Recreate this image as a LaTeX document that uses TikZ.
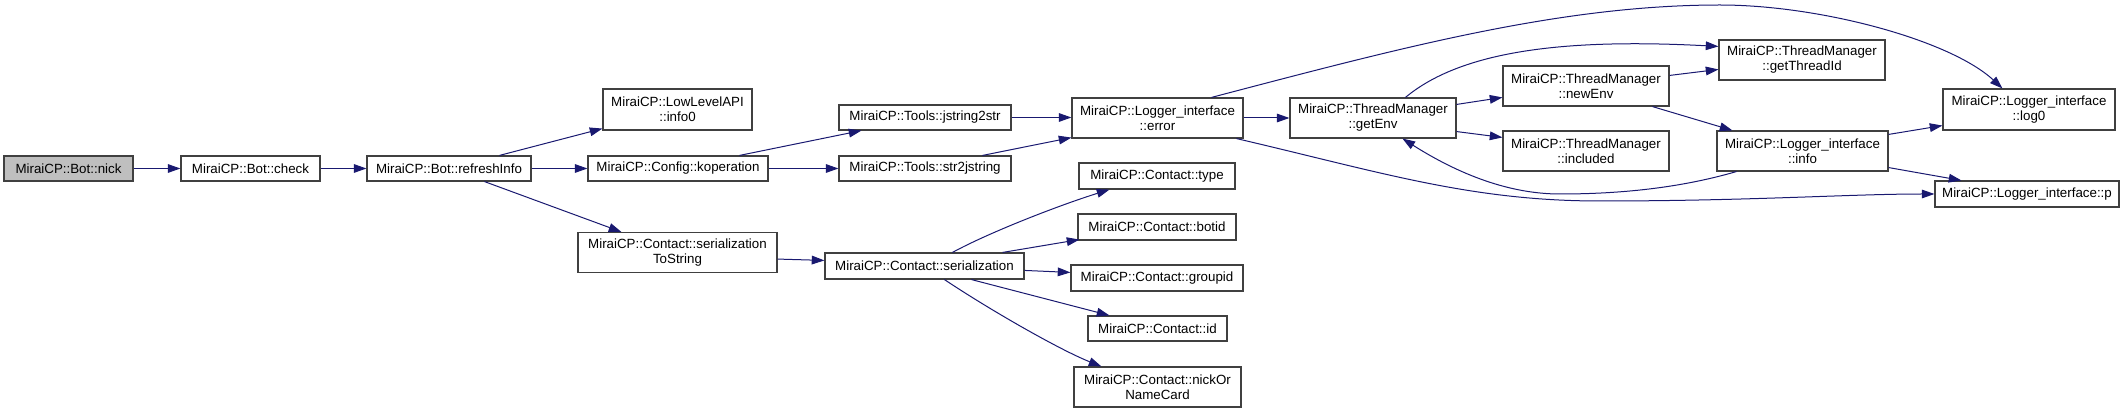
\documentclass[tikz,border=0pt]{standalone}
\usepackage{fontspec}
\setmainfont{Liberation Sans}
\usetikzlibrary{arrows.meta,calc}
\definecolor{edgec}{HTML}{191970}
\definecolor{boxc}{HTML}{404040}
\definecolor{hl}{HTML}{BFBFBF}
\begin{document}
\begin{tikzpicture}[x=0.75pt,y=-0.75pt,
  fn/.style 2 args={draw=boxc,line width=0.85pt,fill=white,inner sep=0pt,align=center,
    minimum width=#1*0.75pt,minimum height=#2*0.75pt,
    font=\fontsize{10pt}{11.2pt}\selectfont},
  e/.style={draw=edgec,line width=0.75pt,-{Triangle[length=9.5pt,width=6.5pt]}}]
\useasboundingbox (0,0) rectangle (2128,413);

\node[fn={129}{25},fill=hl] (nick) at (68.5,168.5) {MiraiCP::Bot::nick};
\node[fn={139}{25}] (check) at (250.5,168.5) {MiraiCP::Bot::check};
\node[fn={164}{25}] (refreshInfo) at (449,168.5) {MiraiCP::Bot::refreshInfo};
\node[fn={149}{41}] (info0) at (677.5,109.5) {MiraiCP::LowLevelAPI\\::info0};
\node[fn={180}{25}] (koperation) at (678,168.5) {MiraiCP::Config::koperation};
\node[fn={172}{25}] (jstring2str) at (925,117.5) {MiraiCP::Tools::jstring2str};
\node[fn={172}{25}] (str2jstring) at (925,168.5) {MiraiCP::Tools::str2jstring};
\node[fn={199}{40}] (serToStr) at (677.5,252.5) {MiraiCP::Contact::serialization\\ToString};
\node[fn={199}{26}] (ser) at (924.5,266) {MiraiCP::Contact::serialization};
\node[fn={171}{40}] (error) at (1157.5,118) {MiraiCP::Logger\_interface\\::error};
\node[fn={166}{40}] (getEnv) at (1373,118) {MiraiCP::ThreadManager\\::getEnv};
\node[fn={166}{40}] (newEnv) at (1586,86) {MiraiCP::ThreadManager\\::newEnv};
\node[fn={166}{40}] (included) at (1586,151) {MiraiCP::ThreadManager\\::included};
\node[fn={166}{40}] (getThreadId) at (1802,60) {MiraiCP::ThreadManager\\::getThreadId};
\node[fn={171}{40}] (info) at (1802.5,151) {MiraiCP::Logger\_interface\\::info};
\node[fn={172}{41}] (log0) at (2029,109.5) {MiraiCP::Logger\_interface\\::log0};
\node[fn={184}{26}] (p) at (2027,194) {MiraiCP::Logger\_interface::p};
\node[fn={156}{26}] (type) at (1157,176) {MiraiCP::Contact::type};
\node[fn={158}{26}] (botid) at (1157,227) {MiraiCP::Contact::botid};
\node[fn={172}{26}] (groupid) at (1157,278) {MiraiCP::Contact::groupid};
\node[fn={139}{25}] (id) at (1157.5,328.5) {MiraiCP::Contact::id};
\node[fn={167}{40}] (nickOr) at (1157.5,387) {MiraiCP::Contact::nickOr\\NameCard};

\draw[e] (nick.east) -- (check.west);
\draw[e] (check.east) -- (refreshInfo.west);
\draw[e] ($(refreshInfo.north west)+(133,0)$) -- ($(info0.south west)+(0,-2)$);
\draw[e] (refreshInfo.east) -- (koperation.west);
\draw[e] ($(refreshInfo.south west)+(118,0)$) -- ($(serToStr.north west)+(44,0)$);
\draw[e] ($(koperation.north west)+(152,0)$) -- ($(jstring2str.south west)+(23,0)$);
\draw[e] (koperation.east) -- (str2jstring.west);
\draw[e] (jstring2str.east) -- (error.west |- jstring2str.east);
\draw[e] ($(str2jstring.north west)+(144,0)$) -- ($(error.south west)+(0,-1)$);
\draw[e] (error.east) -- (getEnv.west);
\draw[e] ($(error.north west)+(140,0)$) .. controls (1400,48) and (1560,5) .. (1720,5)
  .. controls (1820,5) and (1950,40) .. ($(log0.north west)+(60,0)$);
\draw[e] ($(error.south west)+(165,0)$) .. controls (1380,172) and (1470,201) .. (1600,201)
  .. controls (1750,201) and (1850,194) .. (p.west);
\draw[e] ($(getEnv.north west)+(116,0)$) .. controls (1460,52) and (1560,38) .. ($(getThreadId.north west)+(0,7)$);
\draw[e] ($(getEnv.north east)+(0,7)$) -- ($(newEnv.north west)+(0,32)$);
\draw[e] ($(getEnv.south east)+(0,-7)$) -- ($(included.north west)+(0,7)$);
\draw[e] ($(newEnv.north east)+(0,10)$) -- ($(getThreadId.north west)+(0,30)$);
\draw[e] ($(newEnv.south west)+(150,0)$) -- ($(info.north west)+(16,0)$);
\draw[e] ($(info.south west)+(20,0)$) .. controls (1680,188) and (1620,194) .. (1560,194)
  .. controls (1510,194) and (1460,175) .. ($(getEnv.south west)+(113,0)$);
\draw[e] ($(info.north east)+(0,4)$) -- ($(log0.south west)+(0,-5)$);
\draw[e] ($(info.south east)+(0,-4)$) -- ($(p.north west)+(27,0)$);
\draw[e] ($(serToStr.south east)+(0,-14)$) -- ($(ser.north west)+(0,8)$);
\draw[e] ($(ser.north west)+(128,0)$) .. controls (990,232) and (1060,205) .. ($(type.south west)+(31,0)$);
\draw[e] ($(ser.north east)+(-22,0)$) -- ($(botid.south west)+(2,-1)$);
\draw[e] ($(ser.north east)+(0,18)$) -- ($(groupid.north west)+(0,8)$);
\draw[e] ($(ser.south west)+(147,0)$) -- ($(id.north west)+(22,0)$);
\draw[e] ($(ser.south west)+(120,0)$) .. controls (990,310) and (1060,350) .. ($(nickOr.north west)+(28,0)$);
\end{tikzpicture}
\end{document}
